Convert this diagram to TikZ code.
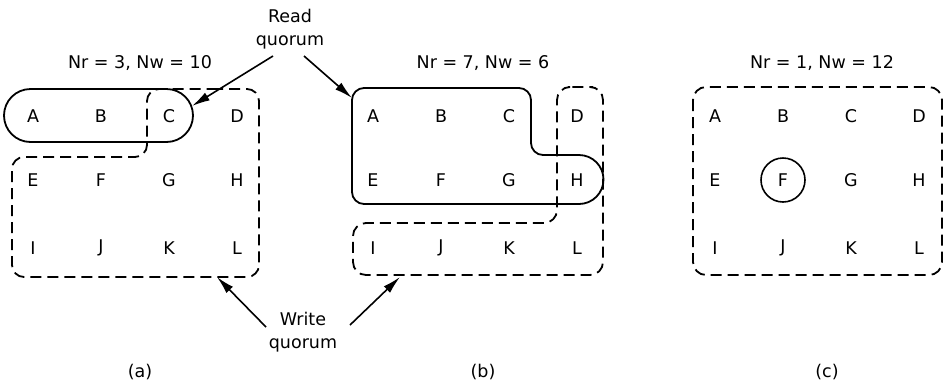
\documentclass[tikz,border=0pt]{standalone}
\usepackage{fontspec}
\setmainfont{DejaVu Sans}
\usetikzlibrary{arrows.meta}
\begin{document}
\begin{tikzpicture}[x=1pt,y=-1pt,
  lbl/.style={inner sep=0pt, font=\fontsize{17.5}{23}\selectfont},
  rq/.style={draw, line width=1.8pt},
  wq/.style={draw, line width=1.8pt, dash pattern=on 11pt off 6pt},
  ptr/.style={line width=1.6pt, -{Latex[length=18pt,width=9pt]}}]
\useasboundingbox (0,0) rectangle (945,381);
% letters
\foreach \p/\o in {a/0,b/340,c/682}{
  \foreach \n/\cx/\cy in {A/33/116,B/101/116,C/169/116,D/237/116,
                          E/33/180,F/101/180,G/169/180,H/237/180,
                          I/33/248,J/101/248,K/169/248,L/237/248}{
    \node[lbl] (\p\n) at (\cx+\o,\cy) {\n};
  }
}
% titles and captions
\node[lbl] (ta) at (140,63) {Nr = 3, Nw = 10};
\node[lbl] (tb) at (483,63) {Nr = 7, Nw = 6};
\node[lbl] (tc) at (822,63) {Nr = 1, Nw = 12};
\node[lbl] (capa) at (140,372) {(a)};
\node[lbl] (capb) at (483,372) {(b)};
\node[lbl] (capc) at (827,372) {(c)};
\node[lbl, align=center] (rqtext) at (290,29) {Read\\quorum};
\node[lbl, align=center] (wqtext) at (303,332) {Write\\quorum};
% panel (a)
\draw[rq, rounded corners=26.5] (4,89) rectangle (193,142);
\draw[wq, rounded corners=12] (200,89) -- (259,89) -- (259,277) -- (12,277)
  -- (12,157) -- (147,157) -- (147,89) -- cycle;
% panel (b)
\draw[rq] (352,100) arc[start angle=180,end angle=270,radius=12] -- (519,88)
  arc[start angle=270,end angle=360,radius=12] -- (531,143)
  arc[start angle=180,end angle=90,radius=12] -- (579,155)
  arc[start angle=270,end angle=450,radius=24.5] -- (364,204)
  arc[start angle=90,end angle=180,radius=12] -- cycle;
\draw[wq, rounded corners=13] (580,87) -- (603,87) -- (603,275) -- (353,275)
  -- (353,223) -- (557,223) -- (557,87) -- cycle;
% panel (c)
\draw[wq, rounded corners=13] (693,87) rectangle (942,275);
\node[draw, circle, line width=1.6pt, minimum size=44pt, inner sep=0pt] (ring) at (cF) {};
% arrows
\coordinate (rqL) at (273,56);
\coordinate (rqR) at (304,56);
\coordinate (rqLt) at (192,106);
\coordinate (rqRt) at (352,98);
\coordinate (wqL) at (266,327);
\coordinate (wqR) at (350,325);
\coordinate (wqLt) at (217,277);
\coordinate (wqRt) at (400,277);
\draw[ptr] (rqL) -- (rqLt);
\draw[ptr] (rqR) -- (rqRt);
\draw[ptr] (wqL) -- (wqLt);
\draw[ptr] (wqR) -- (wqRt);
\end{tikzpicture}
\end{document}
